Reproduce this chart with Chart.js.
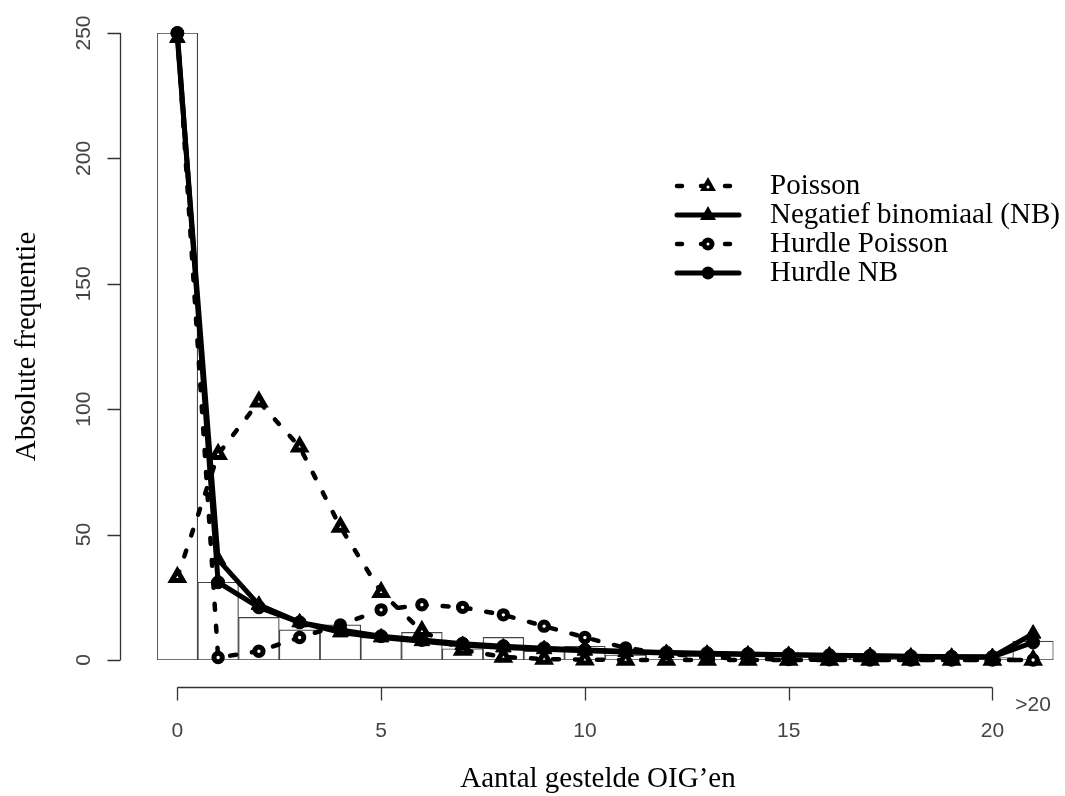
<!DOCTYPE html>
<html>
<head>
<meta charset="utf-8">
<script src="https://cdn.jsdelivr.net/npm/chart.js@4/dist/chart.umd.min.js"></script>
<style>
  html, body { margin: 0; padding: 0; background: #fff; }
  #wrap { width: 1065px; height: 796px; }
</style>
</head>
<body>
<div id="wrap"><canvas id="freq"></canvas></div>
<script>
// counts 0..20, last one is ">20"
const counts = [0,1,2,3,4,5,6,7,8,9,10,11,12,13,14,15,16,17,18,19,20,21];
const observed = [250,31,17,12,14,9,11,4.5,9,3.5,5.5,2,3,1.5,2.5,1.5,2.5,1.5,1.5,1,1,7.5];
const poisson = [33,82,103,85,53,27,11.5,4,1.2,0.4,0.1,0,0,0,0,0,0,0,0,0,0,0];
const negBin = [248,40,22,15,11,9,7.5,6,5,4.3,3.7,3.2,2.8,2.5,2.2,2,1.8,1.6,1.4,1.3,1.2,10.5];
const hurdlePoisson = [250,1,3.5,9,14,20,22,21,18,13.5,9,4.8,2.5,1.2,0.5,0.2,0.1,0,0,0,0,0];
const hurdleNB = [250,31,21,15,12,9.5,8,6.5,5.5,4.7,4,3.5,3,2.7,2.4,2.1,1.9,1.7,1.5,1.3,1.2,7];

const yTicks = [0,50,100,150,200,250];
const xTicks = [0,5,10,15,20];
const lastLabel = ">20";

const legendLabels = ["Poisson","Negatief binomiaal (NB)","Hurdle Poisson","Hurdle NB"];

function pts(arr) {
    return counts.map((c,i) => ({x: c, y: arr[i]}));
}

const dash = [6,16];

function lineSet(label, arr, dashed, style, hollow, order) {
    const tri = style === 'triangle';
    return {
        type: 'line',
        label: label,
        data: pts(arr),
        borderColor: '#000',
        borderWidth: dashed ? 4.5 : 5,
        borderDash: dashed ? dash : [],
        borderCapStyle: 'round',
        borderJoinStyle: 'round',
        pointStyle: style,
        pointRadius: tri ? (hollow ? 6.5 : 9) : (hollow ? 4.2 : 6.5),
        pointBorderWidth: hollow ? 5 : 1,
        pointBackgroundColor: hollow ? '#fff' : '#000',
        pointBorderColor: '#000',
        tension: 0,
        fill: false,
        clip: false,
        order: order
    };
}

// axes, titles and legend drawn R-style
const rAxes = {
    id: 'rAxes',
    afterDraw(chart) {
        const {ctx, scales: {x, y}} = chart;
        ctx.save();
        ctx.strokeStyle = '#333';
        ctx.lineWidth = 1.3;

        // y axis
        const ax = 120.5;
        ctx.beginPath();
        ctx.moveTo(ax, y.getPixelForValue(0));
        ctx.lineTo(ax, y.getPixelForValue(250));
        yTicks.forEach(v => {
            const py = Math.round(y.getPixelForValue(v)) + 0.5;
            ctx.moveTo(ax - 13, py);
            ctx.lineTo(ax, py);
        });
        ctx.stroke();

        ctx.fillStyle = '#444';
        ctx.font = '21px "Liberation Sans", Arial, sans-serif';
        ctx.textAlign = 'center';
        ctx.textBaseline = 'middle';
        yTicks.forEach(v => {
            ctx.save();
            ctx.translate(84, y.getPixelForValue(v));
            ctx.rotate(-Math.PI / 2);
            ctx.fillText(String(v), 0, 0);
            ctx.restore();
        });

        // x axis
        const ay = 687.5;
        ctx.beginPath();
        ctx.moveTo(x.getPixelForValue(0), ay);
        ctx.lineTo(x.getPixelForValue(20), ay);
        xTicks.forEach(v => {
            const px = Math.round(x.getPixelForValue(v)) + 0.5;
            ctx.moveTo(px, ay);
            ctx.lineTo(px, ay + 13);
        });
        ctx.stroke();
        xTicks.forEach(v => {
            ctx.fillText(String(v), x.getPixelForValue(v), 731);
        });
        ctx.fillText(lastLabel, x.getPixelForValue(21), 705);

        // titles
        ctx.fillStyle = '#000';
        ctx.font = '29px "Liberation Serif", "Times New Roman", serif';
        ctx.fillText("Aantal gestelde OIG\u2019en", 598, 779);
        ctx.save();
        ctx.translate(27, (y.getPixelForValue(0) + y.getPixelForValue(250)) / 2);
        ctx.rotate(-Math.PI / 2);
        ctx.fillText("Absolute frequentie", 0, 0);
        ctx.restore();

        // legend
        const rows = [186, 215, 244, 273];
        const kinds = [
            {dashed: true, tri: true, hollow: true},
            {dashed: false, tri: true, hollow: false},
            {dashed: true, tri: false, hollow: true},
            {dashed: false, tri: false, hollow: false}
        ];
        ctx.textAlign = 'left';
        legendLabels.forEach((lab, i) => {
            const k = kinds[i];
            const ly = rows[i];
            ctx.strokeStyle = '#000';
            ctx.lineCap = 'round';
            ctx.lineWidth = k.dashed ? 4.5 : 5;
            ctx.setLineDash(k.dashed ? [5, 19] : []);
            ctx.beginPath();
            ctx.moveTo(677, ly);
            ctx.lineTo(739, ly);
            ctx.stroke();
            ctx.setLineDash([]);
            ctx.fillStyle = '#000';
            ctx.beginPath();
            if (k.tri) {
                ctx.moveTo(708, ly - 9);
                ctx.lineTo(716, ly + 5);
                ctx.lineTo(700, ly + 5);
                ctx.closePath();
            } else {
                ctx.arc(708, ly, 6.5, 0, Math.PI * 2);
            }
            ctx.fill();
            if (k.hollow) {
                ctx.fillStyle = '#fff';
                ctx.beginPath();
                ctx.arc(708, k.tri ? ly + 1 : ly, 1.5, 0, Math.PI * 2);
                ctx.fill();
            }
            ctx.fillStyle = '#000';
            ctx.textBaseline = 'middle';
            ctx.fillText(lab, 770, ly);
        });
        ctx.restore();
    }
};

new Chart(document.getElementById('freq'), {
    type: 'bar',
    data: {
        datasets: [
            {
                type: 'bar',
                label: 'Observed',
                data: pts(observed),
                backgroundColor: '#fff',
                borderColor: '#444',
                borderWidth: 1.2,
                borderSkipped: false,
                barPercentage: 1,
                categoryPercentage: 1,
                order: 10
            },
            lineSet(legendLabels[0], poisson, true, 'triangle', true, 3),
            lineSet(legendLabels[2], hurdlePoisson, true, 'circle', true, 2),
            lineSet(legendLabels[1], negBin, false, 'triangle', false, 1),
            lineSet(legendLabels[3], hurdleNB, false, 'circle', false, 0)
        ]
    },
    options: {
        responsive: true,
        maintainAspectRatio: false,
        animation: false,
        layout: {
            padding: {left: 157, right: 8, top: 33, bottom: 136}
        },
        plugins: {
            legend: {display: false},
            tooltip: {enabled: false}
        },
        scales: {
            x: {
                type: 'linear',
                min: -0.5,
                max: 21.5,
                offset: false,
                display: false
            },
            y: {
                min: 0,
                max: 250,
                display: false
            }
        }
    },
    plugins: [rAxes]
});
</script>
</body>
</html>
